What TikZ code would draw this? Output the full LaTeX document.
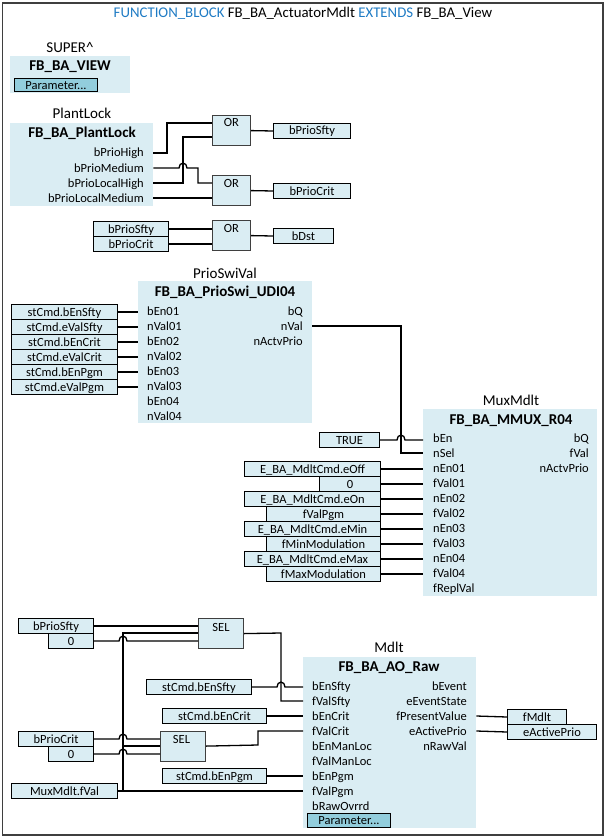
\documentclass[tikz,border=0pt]{standalone}
\usepackage{fontspec}
\setmainfont{Carlito}
\usetikzlibrary{calc}
\definecolor{blockfill}{HTML}{DAEDF3}
\definecolor{btnfill}{HTML}{92CDDC}
\definecolor{kwblue}{HTML}{1F7BC4}
\definecolor{framegray}{HTML}{3F3F3F}
\def\hop{arc[start angle=180,end angle=360,x radius=4,y radius=5]}
\tikzset{
	txt/.style={inner sep=0pt, text height=9.5pt, text depth=1.5pt, font=\fontsize{12.5}{14}\selectfont},
	pinleft/.style={txt, anchor=west},
	pinright/.style={txt, anchor=east},
	fbname/.style={txt, font=\fontsize{15}{17}\selectfont\bfseries},
	instname/.style={txt, font=\fontsize{15}{17}\selectfont},
	heading/.style={txt, font=\fontsize{14.8}{17}\selectfont},
	block/.style={fill=blockfill, anchor=north west, inner sep=0pt, minimum height=#1},
	varbox/.style={txt, draw=black, line width=1pt, fill=blockfill, anchor=north west, minimum height=15pt},
	gate/.style={draw=framegray, line width=1.2pt, fill=blockfill, anchor=north west, inner sep=0pt},
	btn/.style={txt, draw=black, line width=1pt, fill=btnfill, anchor=north west, minimum height=13.5pt},
	wire/.style={line width=1.3pt, line join=miter}
}

\begin{document}
\begin{tikzpicture}[x=1pt, y=-1pt]
	\useasboundingbox (0,0) rectangle (606,840);
	%%%%% FRAME AND HEADING %%%%%
	\draw[line width=1.6pt, color=framegray] (2.5,3) rectangle (603,835);
	\node[heading] (title) at (303,14) {\textcolor{kwblue}{FUNCTION\_BLOCK} FB\_BA\_ActuatorMdlt \textcolor{kwblue}{EXTENDS} FB\_BA\_View};

	%%%%% SUPER %%%%%
	\node[block=37pt, minimum width=120pt] (View) at (10,56) {};
	\node[instname] (superName) at (70,49) {SUPER\^{}};
	\node[fbname] (viewType) at (70,66.5) {FB\_BA\_VIEW};
	\node[btn, minimum width=83pt] (viewParam) at (14,78) {Parameter...};

	%%%%% PLANT LOCK %%%%%
	\node[block=83pt, minimum width=143pt] (PlantLock) at (10,123) {};
	\node[instname] (plantName) at (82,115) {PlantLock};
	\node[fbname] (plantType) at (82,134) {FB\_BA\_PlantLock};
	\node[pinright] (pinHigh) at (144,153) {bPrioHigh};
	\node[pinright] (pinMedium) at (144,168) {bPrioMedium};
	\node[pinright] (pinLocalHigh) at (144,183) {bPrioLocalHigh};
	\node[pinright] (pinLocalMedium) at (144,198) {bPrioLocalMedium};

	\node[gate, minimum width=38pt, minimum height=30pt] (OrSfty) at (212,115) {};
	\node[txt] (orSftyTxt) at (231.5,123) {OR};
	\node[gate, minimum width=38pt, minimum height=30pt] (OrCrit) at (212,175) {};
	\node[txt] (orCritTxt) at (231.5,183) {OR};
	\node[gate, minimum width=38pt, minimum height=30pt] (OrDst) at (212,220) {};
	\node[txt] (orDstTxt) at (231.5,228) {OR};

	\node[varbox, minimum width=77pt] (bPrioSfty) at (273,123) {bPrioSfty};
	\node[varbox, minimum width=77pt] (bPrioCrit) at (273,183) {bPrioCrit};
	\node[varbox, minimum width=60pt] (bDst) at (273,228) {bDst};
	\node[varbox, minimum width=75pt] (inSfty) at (93,221) {bPrioSfty};
	\node[varbox, minimum width=75pt] (inCrit) at (93,236) {bPrioCrit};

	\coordinate (crossHigh) at (183,183);
	\draw[wire] (PlantLock.east |- pinHigh) -- (167,153) -- (167,123) -- (OrSfty.west |- 0,123);
	\draw[wire] (PlantLock.east |- pinLocalHigh) -- (crossHigh) -- (183,137) -- (OrSfty.west |- 0,137);
	\draw[wire] (PlantLock.east |- pinMedium) -- ($(crossHigh |- pinMedium)+(-4,0)$) \hop -- (198,168) -- (198,183) -- (OrCrit.west |- 0,183);
	\draw[wire] (PlantLock.east |- pinLocalMedium) -- (OrCrit.west |- pinLocalMedium);
	\draw[wire] (OrSfty.east) -- (bPrioSfty.west);
	\draw[wire] (OrCrit.east) -- (bPrioCrit.west);
	\draw[wire] (OrDst.east) -- (bDst.west);
	\draw[wire] (inSfty.east) -- (OrDst.west |- inSfty.east);
	\draw[wire] (inCrit.east) -- (OrDst.west |- inCrit.east);

	%%%%% PRIO SWITCH %%%%%
	\node[block=142pt, minimum width=174pt] (PrioSwi) at (138,281) {};
	\node[instname] (prioName) at (225,274) {PrioSwiVal};
	\node[fbname] (prioType) at (225,292.5) {FB\_BA\_PrioSwi\_UDI04};
	\node[pinleft] (pinEn01) at (147,311) {bEn01};
	\node[pinleft] (pinVal01) at (147,326) {nVal01};
	\node[pinleft] (pinEn02) at (147,341) {bEn02};
	\node[pinleft] (pinVal02) at (147,356) {nVal02};
	\node[pinleft] (pinEn03) at (147,371) {bEn03};
	\node[pinleft] (pinVal03) at (147,386) {nVal03};
	\node[pinleft] (pinEn04) at (147,401) {bEn04};
	\node[pinleft] (pinVal04) at (147,416) {nVal04};
	\node[pinright] (pinQ) at (303,311) {bQ};
	\node[pinright] (pinVal) at (303,326) {nVal};
	\node[pinright] (pinActv) at (303,341) {nActvPrio};

	\node[varbox, minimum width=106pt] (cmdEnSfty) at (11,304) {stCmd.bEnSfty};
	\node[varbox, minimum width=106pt] (cmdValSfty) at (11,319) {stCmd.eValSfty};
	\node[varbox, minimum width=106pt] (cmdEnCrit) at (11,334) {stCmd.bEnCrit};
	\node[varbox, minimum width=106pt] (cmdValCrit) at (11,349) {stCmd.eValCrit};
	\node[varbox, minimum width=106pt] (cmdEnPgm) at (11,364) {stCmd.bEnPgm};
	\node[varbox, minimum width=106pt] (cmdValPgm) at (11,379) {stCmd.eValPgm};

	\draw[wire] (cmdEnSfty.east) -- (PrioSwi.west |- cmdEnSfty.east);
	\draw[wire] (cmdValSfty.east) -- (PrioSwi.west |- cmdValSfty.east);
	\draw[wire] (cmdEnCrit.east) -- (PrioSwi.west |- cmdEnCrit.east);
	\draw[wire] (cmdValCrit.east) -- (PrioSwi.west |- cmdValCrit.east);
	\draw[wire] (cmdEnPgm.east) -- (PrioSwi.west |- cmdEnPgm.east);
	\draw[wire] (cmdValPgm.east) -- (PrioSwi.west |- cmdValPgm.east);

	%%%%% MUX %%%%%
	\node[block=187pt, minimum width=174pt] (Mux) at (423,409) {};
	\node[instname] (muxName) at (511,401) {MuxMdlt};
	\node[fbname] (muxType) at (511,420.5) {FB\_BA\_MMUX\_R04};
	\node[pinleft] (pinMuxEn) at (433,438) {bEn};
	\node[pinleft] (pinMuxSel) at (433,453) {nSel};
	\node[pinleft] (pinMuxEn01) at (433,468) {nEn01};
	\node[pinleft] (pinMuxVal01) at (433,483) {fVal01};
	\node[pinleft] (pinMuxEn02) at (433,498) {nEn02};
	\node[pinleft] (pinMuxVal02) at (433,513) {fVal02};
	\node[pinleft] (pinMuxEn03) at (433,528) {nEn03};
	\node[pinleft] (pinMuxVal03) at (433,543) {fVal03};
	\node[pinleft] (pinMuxEn04) at (433,558) {nEn04};
	\node[pinleft] (pinMuxVal04) at (433,573) {fVal04};
	\node[pinleft] (pinMuxRepl) at (433,588) {fReplVal};
	\node[pinright] (pinMuxQ) at (589,438) {bQ};
	\node[pinright] (pinMuxVal) at (589,453) {fVal};
	\node[pinright] (pinMuxActv) at (589,468) {nActvPrio};

	\node[varbox, minimum width=60pt] (muxTrue) at (319,432) {TRUE};
	\node[varbox, minimum width=136pt] (muxOff) at (244,461) {E\_BA\_MdltCmd.eOff};
	\node[varbox, minimum width=61pt] (muxZero) at (319,476) {0};
	\node[varbox, minimum width=136pt] (muxOn) at (244,491) {E\_BA\_MdltCmd.eOn};
	\node[varbox, minimum width=114pt] (muxPgm) at (266,506) {fValPgm};
	\node[varbox, minimum width=136pt] (muxMin) at (244,521) {E\_BA\_MdltCmd.eMin};
	\node[varbox, minimum width=114pt] (muxMinMod) at (266,536) {fMinModulation};
	\node[varbox, minimum width=136pt] (muxMax) at (244,551) {E\_BA\_MdltCmd.eMax};
	\node[varbox, minimum width=114pt] (muxMaxMod) at (266,566) {fMaxModulation};

	\coordinate (riserVal) at (401,326);
	\draw[wire] (PrioSwi.east |- pinVal) -- (riserVal) -- (riserVal |- pinMuxSel) -- (Mux.west |- pinMuxSel);
	\draw[wire] (muxTrue.east) -- ($(riserVal |- muxTrue.east)+(-4,0)$) \hop -- (Mux.west |- muxTrue.east);
	\draw[wire] (muxOff.east) -- (Mux.west |- muxOff.east);
	\draw[wire] (muxZero.east) -- (Mux.west |- muxZero.east);
	\draw[wire] (muxOn.east) -- (Mux.west |- muxOn.east);
	\draw[wire] (muxPgm.east) -- (Mux.west |- muxPgm.east);
	\draw[wire] (muxMin.east) -- (Mux.west |- muxMin.east);
	\draw[wire] (muxMinMod.east) -- (Mux.west |- muxMinMod.east);
	\draw[wire] (muxMax.east) -- (Mux.west |- muxMax.east);
	\draw[wire] (muxMaxMod.east) -- (Mux.west |- muxMaxMod.east);

	%%%%% ANALOG OUTPUT %%%%%
	\node[block=171pt, minimum width=173pt] (Mdlt) at (303,657) {};
	\node[instname] (mdltName) at (389,648) {Mdlt};
	\node[fbname] (mdltType) at (389,667) {FB\_BA\_AO\_Raw};
	\node[pinleft] (pinEnSfty) at (312,686) {bEnSfty};
	\node[pinleft] (pinValSfty) at (312,701) {fValSfty};
	\node[pinleft] (pinEnCrit) at (312,716) {bEnCrit};
	\node[pinleft] (pinValCrit) at (312,731) {fValCrit};
	\node[pinleft] (pinEnMan) at (312,746) {bEnManLoc};
	\node[pinleft] (pinValMan) at (312,761) {fValManLoc};
	\node[pinleft] (pinEnPgm) at (312,776) {bEnPgm};
	\node[pinleft] (pinValPgm) at (312,791) {fValPgm};
	\node[pinleft] (pinOvrrd) at (312,806) {bRawOvrrd};
	\node[pinright] (pinEvent) at (467,686) {bEvent};
	\node[pinright] (pinState) at (467,701) {eEventState};
	\node[pinright] (pinPresent) at (467,716) {fPresentValue};
	\node[pinright] (pinPrio) at (467,731) {eActivePrio};
	\node[pinright] (pinRaw) at (467,746) {nRawVal};
	\node[btn, minimum width=83pt] (mdltParam) at (307,813) {Parameter...};

	\node[varbox, minimum width=59pt] (fMdlt) at (507,709) {fMdlt};
	\node[varbox, minimum width=89pt] (eActivePrio) at (507,724) {eActivePrio};
	\node[varbox, minimum width=75pt] (selSftyIn) at (18,618) {bPrioSfty};
	\node[varbox, minimum width=45pt] (selSftyZero) at (48,633) {0};
	\node[varbox, minimum width=75pt] (selCritIn) at (18,731) {bPrioCrit};
	\node[varbox, minimum width=45pt] (selCritZero) at (48,746) {0};
	\node[varbox, minimum width=106pt] (muxVal) at (11,783) {MuxMdlt.fVal};
	\node[varbox, minimum width=105pt] (aoEnSfty) at (146,679) {stCmd.bEnSfty};
	\node[varbox, minimum width=104pt] (aoEnCrit) at (162,708) {stCmd.bEnCrit};
	\node[varbox, minimum width=104pt] (aoEnPgm) at (162,768) {stCmd.bEnPgm};

	\node[gate, minimum width=45pt, minimum height=30pt] (SelSfty) at (198,618) {};
	\node[txt] (selSftyTxt) at (221,627) {SEL};
	\node[gate, minimum width=45pt, minimum height=30pt] (SelCrit) at (160,730.5) {};
	\node[txt] (selCritTxt) at (181.5,739) {SEL};

	\coordinate (busVal) at (123,633);
	\coordinate (riserSfty) at (281,633);
	\coordinate (riserCrit) at (258,745);
	\draw[wire] (muxVal.east) -- (Mdlt.west |- muxVal.east);
	\draw[wire] (busVal |- muxVal.east) -- (busVal) -- (SelSfty.west |- busVal);
	\draw[wire] (busVal |- SelCrit.west) -- (SelCrit.west);
	\draw[wire] (selSftyIn.east) -- (SelSfty.west |- selSftyIn.east);
	\draw[wire] (selSftyZero.east) -- ($(busVal |- selSftyZero.east)+(-4,0)$) \hop -- (SelSfty.west |- selSftyZero.east);
	\draw[wire] (selCritIn.east) -- ($(busVal |- selCritIn.east)+(-4,0)$) \hop -- (SelCrit.west |- selCritIn.east);
	\draw[wire] (selCritZero.east) -- ($(busVal |- selCritZero.east)+(-4,0)$) \hop -- (SelCrit.west |- selCritZero.east);
	\draw[wire] (SelSfty.east) -- (riserSfty) -- (riserSfty |- pinValSfty) -- (Mdlt.west |- pinValSfty);
	\draw[wire] (aoEnSfty.east) -- ($(riserSfty |- aoEnSfty.east)+(-4,0)$) \hop -- (Mdlt.west |- aoEnSfty.east);
	\draw[wire] (aoEnCrit.east) -- (Mdlt.west |- aoEnCrit.east);
	\draw[wire] (SelCrit.east) -- (riserCrit) -- (riserCrit |- pinValCrit) -- (Mdlt.west |- pinValCrit);
	\draw[wire] (aoEnPgm.east) -- (Mdlt.west |- aoEnPgm.east);
	\draw[wire] (Mdlt.east |- pinPresent) -- (fMdlt.west);
	\draw[wire] (Mdlt.east |- pinPrio) -- (eActivePrio.west);
\end{tikzpicture}
\end{document}
